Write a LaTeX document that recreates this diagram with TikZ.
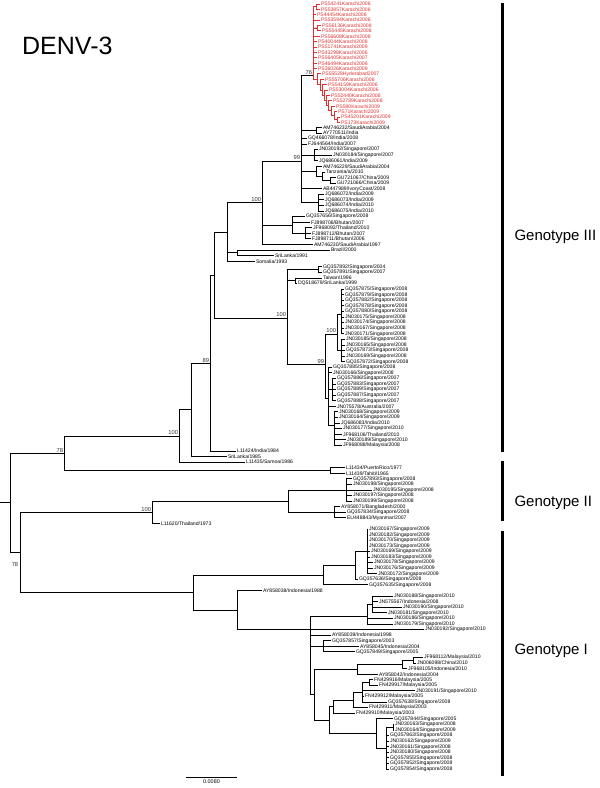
\documentclass[tikz,border=0pt]{standalone}
\usepackage{fontspec}
\setmainfont{Liberation Sans}
\usepackage{xcolor}
\usepackage{tikz}

\definecolor{cladered}{RGB}{226,48,48}
% leaf: [style] name x index label
\newcommand{\leaf}[5][]{\node[leaf,#1] (#2) at (#3,{ifthenelse(#4<=25,4+5.38*#4,138.5+5.58*(#4-25))}) {#5};}

\begin{document}
\begin{tikzpicture}[x=1pt, y=-1pt,
  leaf/.style={anchor=west, inner sep=0.8pt, font=\fontsize{5.1}{6}\selectfont},
  redleaf/.style={text=cladered},
  br/.style={line width=0.9pt},
  redbr/.style={line width=0.9pt, draw=cladered},
  boot/.style={anchor=south east, inner sep=0.8pt, font=\fontsize{5.8}{6}\selectfont, text=black!80},
  geno/.style={anchor=west, font=\fontsize{15}{16}\selectfont},
  bracket/.style={line width=3pt}]
\useasboundingbox (0,0) rectangle (600,788);

\node[anchor=base west, font=\fontsize{25}{28}\selectfont, inner sep=0pt] (title) at (22,54) {DENV-3};

% red clade
\leaf[redleaf]{t0}{320}{0}{PS54241Karachi2006}
\leaf[redleaf]{t1}{320}{1}{PS53857Karachi2006}
\leaf[redleaf]{t2}{316}{2}{PS44454Karachi2006}
\leaf[redleaf]{t3}{320}{3}{PS53584Karachi2006}
\leaf[redleaf]{t4}{321}{4}{PS56136Karachi2008}
\leaf[redleaf]{t5}{321}{5}{PS55445Karachi2008}
\leaf[redleaf]{t6}{320}{6}{PS56608Karachi2008}
\leaf[redleaf]{t7}{317}{7}{PS40044Karachi2008}
\leaf[redleaf]{t8}{317}{8}{PS51741Karachi2009}
\leaf[redleaf]{t9}{317}{9}{PS43298Karachi2006}
\leaf[redleaf]{t10}{317}{10}{PS56405Karachi2007}
\leaf[redleaf]{t11}{317}{11}{PS46494Karachi2006}
\leaf[redleaf]{t12}{317}{12}{PS36026Karachi2009}
\leaf[redleaf]{t13}{321}{13}{PS55528Hyderabad2007}
\leaf[redleaf]{t14}{324}{14}{PS55706Karachi2006}
\leaf[redleaf]{t15}{327}{15}{PS54159Karachi2006}
\leaf[redleaf]{t16}{328}{16}{PS53004Karachi2006}
\leaf[redleaf]{t17}{330}{17}{PS52440Karachi2008}
\leaf[redleaf]{t18}{332}{18}{PS52789Karachi2008}
\leaf[redleaf]{t19}{335}{19}{PS590Karachi2009}
\leaf[redleaf]{t20}{337}{20}{PS71Karachi2009}
\leaf[redleaf]{t21}{340}{21}{PS45201Karachi2009}
\leaf[redleaf]{t22}{340}{22}{PS173Karachi2009}

\coordinate (nRa) at (316,6.7);
\coordinate (nRb) at (317,28.2);
\coordinate (nR9) at (337,119.7);
\coordinate (nR8) at (334,115.6);
\coordinate (nR7) at (331,110.9);
\coordinate (nR6) at (328,105.9);
\coordinate (nR5) at (326,100.7);
\coordinate (nR4) at (324,95.4);
\coordinate (nR3) at (322,90);
\coordinate (nR2b) at (320,84.7);
\coordinate (nR2) at (317,79.3);
\coordinate (nRed) at (313,75.7);
\foreach \c in {t0,t1} \draw[redbr] (nRa) |- (\c.west);
\foreach \c in {t4,t5} \draw[redbr] (nRb) |- (\c.west);
\foreach \c in {t21,t22} \draw[redbr] (nR9) |- (\c.west);
\draw[redbr] (nR8) |- (t20.west); \draw[redbr] (nR8) |- (nR9);
\draw[redbr] (nR7) |- (t19.west); \draw[redbr] (nR7) |- (nR8);
\draw[redbr] (nR6) |- (t18.west); \draw[redbr] (nR6) |- (nR7);
\draw[redbr] (nR5) |- (t17.west); \draw[redbr] (nR5) |- (nR6);
\draw[redbr] (nR4) |- (t16.west); \draw[redbr] (nR4) |- (nR5);
\draw[redbr] (nR3) |- (t15.west); \draw[redbr] (nR3) |- (nR4);
\draw[redbr] (nR2b) |- (t14.west); \draw[redbr] (nR2b) |- (nR3);
\draw[redbr] (nR2) |- (t13.west); \draw[redbr] (nR2) |- (nR2b);
\foreach \c in {nRa,nRb,nR2} \draw[redbr] (nRed) |- (\c);
\foreach \c in {t2,t3,t6,t7,t8,t9,t10,t11,t12} \draw[redbr] (nRed) |- (\c.west);

% genotype III, upper part
\leaf{t23}{322}{23}{AM746232/SaudiArabia/2004}
\leaf{t24}{322}{24}{AY770511/India}
\leaf{t25}{307}{25}{GQ466078/India/2008}
\leaf{t26}{307}{26}{FJ644564/India/2007}
\leaf{t27}{318}{27}{JN030192/Singapore/2007}
\leaf{t28}{332}{28}{JN030184/Singapore/2007}
\leaf{t29}{318}{29}{JQ686061/India/2009}
\leaf{t30}{322}{30}{AM746229/SaudiArabia/2004}
\leaf{t31}{325}{31}{Tanzania/a/2010}
\leaf{t32}{336}{32}{GU721067/China/2009}
\leaf{t33}{336}{33}{GU721066/China/2009}
\leaf{t34}{322}{34}{AB447989/IvoryCoast/2008}
\leaf{t35}{324}{35}{JQ686072/India/2009}
\leaf{t36}{324}{36}{JQ686073/India/2009}
\leaf{t37}{324}{37}{JQ686074/India/2010}
\leaf{t38}{324}{38}{JQ686075/India/2010}
\leaf{t39}{305}{39}{GQ357656/Singapore/2008}
\leaf{t40}{310}{40}{FJ898706/Bhutan/2007}
\leaf{t41}{312}{41}{JF968092/Thailand/2010}
\leaf{t42}{311}{42}{FJ898712/Bhutan/2007}
\leaf{t43}{311}{43}{FJ898711/Bhutan/2006}
\leaf{t44}{313}{44}{AM746230/SaudiArabia/1997}
\leaf{t45}{330}{45}{Brazil/2000}
\leaf{t46}{274}{46}{SriLanka/1991}
\leaf{t47}{255}{47}{Somalia/1993}
\leaf{t48}{322}{48}{GQ357892/Singapore/2004}
\leaf{t49}{322}{49}{GQ357891/Singapore/2007}
\leaf{t50}{322}{50}{Taiwan/1996}
\leaf{t51}{297}{51}{DQ518679/SriLanka/1999}

\coordinate (nAM) at (316,130.4);
\coordinate (nJN) at (314,155.2);
\coordinate (nGU) at (330,180.4);
\coordinate (nT) at (322,176.2);
\coordinate (nB2) at (316,171.3);
\coordinate (nJQ) at (318,202.7);
\coordinate (n99) at (301,161);
\coordinate (nBh2) at (305,233.4);
\coordinate (nBh) at (292,225);
\coordinate (n262) at (262,202.8);
\coordinate (nSL) at (237,252.9);
\coordinate (n227) at (227,232);
\coordinate (nG4b) at (295,280.8);
\coordinate (nG4a) at (318,269.6);
\foreach \c in {t23,t24} \draw[br] (nAM) |- (\c.west);
\foreach \c in {t27,t28,t29} \draw[br] (nJN) |- (\c.west);
\foreach \c in {t32,t33} \draw[br] (nGU) |- (\c.west);
\draw[br] (nT) |- (t31.west); \draw[br] (nT) |- (nGU);
\draw[br] (nB2) |- (t30.west); \draw[br] (nB2) |- (nT);
\foreach \c in {t35,t36,t37,t38} \draw[br] (nJQ) |- (\c.west);
\draw[br] (n99) |- (nRed);
\foreach \c in {nAM,nJN,nB2,nJQ} \draw[br] (n99) |- (\c);
\foreach \c in {t25,t26,t34} \draw[br] (n99) |- (\c.west);
\foreach \c in {t41,t42,t43} \draw[br] (nBh2) |- (\c.west);
\foreach \c in {t39,t40} \draw[br] (nBh) |- (\c.west);
\draw[br] (nBh) |- (nBh2);
\draw[br] (n262) |- (n99); \draw[br] (n262) |- (nBh); \draw[br] (n262) |- (t44.west);
\foreach \c in {t45,t46} \draw[br] (nSL) |- (\c.west);
\draw[br] (n227) |- (n262); \draw[br] (n227) |- (nSL); \draw[br] (n227) |- (t47.west);
\foreach \c in {t50,t51} \draw[br] (nG4b) |- (\c.west);
\foreach \c in {t48,t49} \draw[br] (nG4a) |- (\c.west);

% genotype III, lower part
\leaf{t52}{344}{52}{GQ357875/Singapore/2008}
\leaf{t53}{344}{53}{GQ357879/Singapore/2008}
\leaf{t54}{344}{54}{GQ357882/Singapore/2008}
\leaf{t55}{344}{55}{GQ357878/Singapore/2008}
\leaf{t56}{344}{56}{GQ357880/Singapore/2008}
\leaf{t57}{344}{57}{JN030175/Singapore/2008}
\leaf{t58}{344}{58}{JN030174/Singapore/2008}
\leaf{t59}{344}{59}{JN030167/Singapore/2008}
\leaf{t60}{344}{60}{JN030171/Singapore/2008}
\leaf{t61}{345}{61}{JN030185/Singapore/2008}
\leaf{t62}{345}{62}{JN030165/Singapore/2008}
\leaf{t63}{345}{63}{GQ357873/Singapore/2008}
\leaf{t64}{345}{64}{JN030169/Singapore/2008}
\leaf{t65}{345}{65}{GQ357872/Singapore/2008}
\leaf{t66}{332}{66}{GQ357885/Singapore/2008}
\leaf{t67}{332}{67}{JN030166/Singapore/2008}
\leaf{t68}{336}{68}{GQ357886/Singapore/2007}
\leaf{t69}{336}{69}{GQ357883/Singapore/2007}
\leaf{t70}{336}{70}{GQ357889/Singapore/2007}
\leaf{t71}{336}{71}{GQ357887/Singapore/2007}
\leaf{t72}{336}{72}{GQ357888/Singapore/2007}
\leaf{t73}{336}{73}{JN075578/Australia/2007}
\leaf{t74}{338}{74}{JN030168/Singapore/2009}
\leaf{t75}{338}{75}{JN030164/Singapore/2009}
\leaf{t76}{340}{76}{JQ686083/India/2010}
\leaf{t77}{342}{77}{JN030177/Singapore/2010}
\leaf{t78}{342}{78}{JF968106/Thailand/2010}
\leaf{t79}{346}{79}{JN030189/Singapore/2010}
\leaf{t80}{342}{80}{JF968088/Malaysia/2008}
\leaf{t81}{236}{81}{L11424/India/1984}
\leaf{t82}{227}{82}{SriLanka/1985}
\leaf{t83}{245}{83}{L11435/Samoa/1986}
\leaf{t84}{345}{84}{L11434/PuertoRico/1977}
\leaf{t85}{345}{85}{L11439/Tahiti/1965}

\coordinate (nA1) at (341,314);
\coordinate (nA2) at (341,350.5);
\coordinate (nA) at (337,334);
\coordinate (nB3) at (334,425);
\coordinate (nB2b) at (332,389.6);
\coordinate (nB) at (328,398);
\coordinate (n99b) at (325,364.5);
\coordinate (n100b) at (287,318);
\coordinate (n215) at (214,275);
\coordinate (n89) at (210,363.3);
\coordinate (n191) at (191,409.9);
\coordinate (n100c) at (179,436);
\coordinate (nPR) at (330,470.5);
\coordinate (n78a) at (64,453.3);
\foreach \c in {t52,t53,t54,t55,t56,t57,t58,t59,t60} \draw[br] (nA1) |- (\c.west);
\foreach \c in {t61,t62,t63,t64,t65} \draw[br] (nA2) |- (\c.west);
\draw[br] (nA) |- (nA1); \draw[br] (nA) |- (nA2);
\foreach \c in {t74,t75,t76,t77,t78,t79,t80} \draw[br] (nB3) |- (\c.west);
\foreach \c in {t68,t69,t70,t71,t72} \draw[br] (nB2b) |- (\c.west);
\foreach \c in {t66,t67,t73} \draw[br] (nB) |- (\c.west);
\draw[br] (nB) |- (nB2b); \draw[br] (nB) |- (nB3);
\draw[br] (n99b) |- (nA); \draw[br] (n99b) |- (nB);
\draw[br] (n100b) |- (nG4a); \draw[br] (n100b) |- (nG4b); \draw[br] (n100b) |- (n99b);
\draw[br] (n215) |- (n227); \draw[br] (n215) |- (n100b);
\draw[br] (n89) |- (n215); \draw[br] (n89) |- (t81.west);
\draw[br] (n191) |- (n89); \draw[br] (n191) |- (t82.west);
\draw[br] (n100c) |- (n191); \draw[br] (n100c) |- (t83.west);
\foreach \c in {t84,t85} \draw[br] (nPR) |- (\c.west);
\draw[br] (n78a) |- (n100c); \draw[br] (n78a) |- (nPR);

% genotype II
\leaf{t86}{352}{86}{GQ357893/Singapore/2008}
\leaf{t87}{352}{87}{JN030198/Singapore/2008}
\leaf{t88}{372}{88}{JN030195/Singapore/2008}
\leaf{t89}{352}{89}{JN030197/Singapore/2008}
\leaf{t90}{352}{90}{JN030199/Singapore/2008}
\leaf{t91}{340}{91}{AY858071/Bangladesh/2000}
\leaf{t92}{346}{92}{GQ357834/Singapore/2008}
\leaf{t93}{346}{93}{EU448843/Myanmar/2007}
\leaf{t94}{160}{94}{L11620/Thailand/1973}

\coordinate (nIIb) at (346,490);
\coordinate (nIIc) at (334,512.4);
\coordinate (nIIa) at (288,501.2);
\coordinate (nII) at (152,512.4);
\foreach \c in {t86,t87,t88,t89,t90} \draw[br] (nIIb) |- (\c.west);
\foreach \c in {t91,t92,t93} \draw[br] (nIIc) |- (\c.west);
\draw[br] (nIIa) |- (nIIb); \draw[br] (nIIa) |- (nIIc);
\draw[br] (nII) |- (nIIa); \draw[br] (nII) |- (t94.west);

% genotype I
\leaf{t95}{368}{95}{JN030167/Singapore/2009}
\leaf{t96}{368}{96}{JN030182/Singapore/2009}
\leaf{t97}{368}{97}{JN030170/Singapore/2009}
\leaf{t98}{368}{98}{JN030173/Singapore/2009}
\leaf{t99}{370}{99}{JN030169/Singapore/2009}
\leaf{t100}{370}{100}{JN030183/Singapore/2009}
\leaf{t101}{373}{101}{JN030178/Singapore/2009}
\leaf{t102}{373}{102}{JN030176/Singapore/2009}
\leaf{t103}{377}{103}{JN030172/Singapore/2009}
\leaf{t104}{358}{104}{GQ357636/Singapore/2008}
\leaf{t105}{368}{105}{GQ357635/Singapore/2008}
\leaf{t106}{262}{106}{AY858038/Indonesia/1988}
\leaf{t107}{393}{107}{JN030188/Singapore/2010}
\leaf{t108}{378}{108}{JN575567/Indonesia/2008}
\leaf{t109}{402}{109}{JN030190/Singapore/2010}
\leaf{t110}{387}{110}{JN030181/Singapore/2010}
\leaf{t111}{393}{111}{JN030186/Singapore/2010}
\leaf{t112}{393}{112}{JN030179/Singapore/2010}
\leaf{t113}{424}{113}{JN030192/Singapore/2010}
\leaf{t114}{331}{114}{AY858039/Indonesia/1998}
\leaf{t115}{331}{115}{GQ357857/Singapore/2003}
\leaf{t116}{359}{116}{AY858045/Indonesia/2004}
\leaf{t117}{355}{117}{GQ357849/Singapore/2005}
\leaf{t118}{423}{118}{JF968112/Malaysia/2010}
\leaf{t119}{416}{119}{JN006098/China/2010}
\leaf{t120}{407}{120}{JF968105/Indonesia/2010}
\leaf{t121}{378}{121}{AY858042/Indonesia/2004}
\leaf{t122}{373}{122}{FN429916/Malaysia/2005}
\leaf{t123}{378}{123}{FN429917/Malaysia/2005}
\leaf{t124}{415}{124}{JN030191/Singapore/2010}
\leaf{t125}{364}{125}{FN429912/Malaysia/2005}
\leaf{t126}{387}{126}{GQ357638/Singapore/2008}
\leaf{t127}{368}{127}{FN429911/Malaysia/2003}
\leaf{t128}{355}{128}{FN429910/Malaysia/2003}
\leaf{t129}{393}{129}{GQ357844/Singapore/2005}
\leaf{t130}{394}{130}{JN030163/Singapore/2008}
\leaf{t131}{394}{131}{JN030164/Singapore/2009}
\leaf{t132}{389}{132}{GQ357863/Singapore/2008}
\leaf{t133}{389}{133}{JN030162/Singapore/2009}
\leaf{t134}{389}{134}{JN030161/Singapore/2008}
\leaf{t135}{389}{135}{JN030180/Singapore/2008}
\leaf{t136}{389}{136}{GQ357855/Singapore/2008}
\leaf{t137}{389}{137}{GQ357852/Singapore/2008}
\leaf{t138}{389}{138}{GQ357854/Singapore/2008}

\coordinate (nGIa3) at (367,551.4);
\coordinate (nGIa1) at (355,565.4);
\coordinate (nGIa) at (323,575.2);
\coordinate (nG1a) at (372,604.4);
\coordinate (nG1) at (367,616);
\coordinate (nG2a) at (323,646.3);
\coordinate (nG2d2) at (413,660.2);
\coordinate (nG2d) at (402,664.4);
\coordinate (nG2c) at (357,669.3);
\coordinate (nG2j) at (369,682.5);
\coordinate (nG2i) at (362,692.3);
\coordinate (nG2h) at (353,700);
\coordinate (nG2g) at (333,706.6);
\coordinate (nG2m) at (393,727.2);
\coordinate (nG2l) at (386,748.1);
\coordinate (nG2k) at (376,733.5);
\coordinate (nG2e) at (329,720);
\coordinate (nG2) at (314,694.7);
\coordinate (nGIc) at (310,629.5);
\coordinate (nGIb) at (237,610);
\coordinate (nGI) at (193,592.6);
\coordinate (n78b) at (20,552.5);
\coordinate (root) at (10,502.9);
\coordinate (rootend) at (0,502.9);
\foreach \c in {t95,t96,t97,t98,t99,t100,t101,t102,t103} \draw[br] (nGIa3) |- (\c.west);
\draw[br] (nGIa1) |- (nGIa3); \draw[br] (nGIa1) |- (t104.west);
\draw[br] (nGIa) |- (nGIa1); \draw[br] (nGIa) |- (t105.west);
\foreach \c in {t107,t108,t109,t110} \draw[br] (nG1a) |- (\c.west);
\draw[br] (nG1) |- (nG1a); \draw[br] (nG1) |- (t111.west); \draw[br] (nG1) |- (t112.west);
\foreach \c in {t115,t116,t117} \draw[br] (nG2a) |- (\c.west);
\foreach \c in {t118,t119} \draw[br] (nG2d2) |- (\c.west);
\draw[br] (nG2d) |- (nG2d2); \draw[br] (nG2d) |- (t120.west);
\draw[br] (nG2c) |- (nG2d); \draw[br] (nG2c) |- (t121.west);
\foreach \c in {t122,t123} \draw[br] (nG2j) |- (\c.west);
\draw[br] (nG2i) |- (nG2j);
\foreach \c in {t124,t125,t126} \draw[br] (nG2i) |- (\c.west);
\draw[br] (nG2h) |- (nG2i); \draw[br] (nG2h) |- (t127.west);
\draw[br] (nG2g) |- (nG2h); \draw[br] (nG2g) |- (t128.west);
\foreach \c in {t130,t131} \draw[br] (nG2m) |- (\c.west);
\draw[br] (nG2l) |- (nG2m);
\foreach \c in {t132,t133,t134,t135,t136,t137,t138} \draw[br] (nG2l) |- (\c.west);
\draw[br] (nG2k) |- (t129.west); \draw[br] (nG2k) |- (nG2l);
\draw[br] (nG2e) |- (nG2g); \draw[br] (nG2e) |- (nG2k);
\draw[br] (nG2) |- (nG2c); \draw[br] (nG2) |- (nG2e);
\draw[br] (nGIc) |- (nG1); \draw[br] (nGIc) |- (nG2a); \draw[br] (nGIc) |- (nG2);
\draw[br] (nGIc) |- (t113.west); \draw[br] (nGIc) |- (t114.west);
\draw[br] (nGIb) |- (t106.west); \draw[br] (nGIb) |- (nGIc);
\draw[br] (nGI) |- (nGIa); \draw[br] (nGI) |- (nGIb);
\draw[br] (n78b) |- (nII); \draw[br] (n78b) |- (nGI);
\draw[br] (root) |- (n78a); \draw[br] (root) |- (n78b);
\draw[br] (rootend) -- (root);

% bootstrap values
\node[boot] (b76) at (nRed) {76};
\node[boot] (b99a) at (n99) {99};
\node[boot] (b100a) at (n262) {100};
\node[boot] (b100b) at (n100b) {100};
\node[boot] (b99b) at (n99b) {99};
\node[boot] (b100d) at (nA) {100};
\node[boot] (b89) at (n89) {89};
\node[boot] (b100c) at (n100c) {100};
\node[boot] (b78a) at (n78a) {78};
\node[boot] (b100e) at (nII) {100};
\node[boot, anchor=center] (b78b) at (15,564) {78};

% genotype brackets
\coordinate (g3a) at (502,3);   \coordinate (g3b) at (502,452);
\coordinate (g2a) at (502,461); \coordinate (g2b) at (502,521);
\coordinate (g1a) at (502,531); \coordinate (g1b) at (502,776);
\draw[bracket] (g3a) -- (g3b);
\draw[bracket] (g2a) -- (g2b);
\draw[bracket] (g1a) -- (g1b);
\node[geno] (lab3) at (511,237) {Genotype III};
\node[geno] (lab2) at (511,503) {Genotype II};
\node[geno] (lab1) at (511,651) {Genotype I};

% scale bar
\coordinate (sbl) at (186,777.7);
\coordinate (sbr) at (237,777.7);
\draw[line width=1pt] (sbl) -- (sbr);
\node[font=\fontsize{5.4}{6}\selectfont, anchor=north, inner sep=1pt] (sbt) at (211.5,779) {0.0080};
\end{tikzpicture}
\end{document}
